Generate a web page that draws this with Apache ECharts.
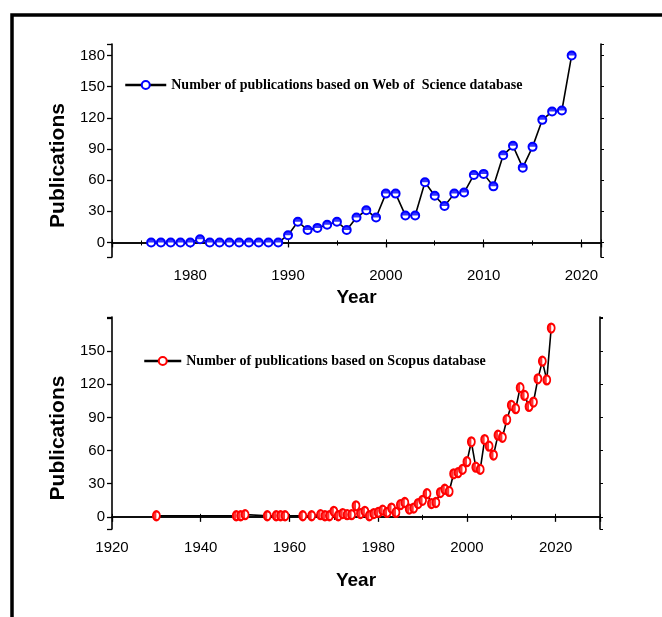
<!DOCTYPE html>
<html><head><meta charset="utf-8">
<script src="https://cdn.jsdelivr.net/npm/echarts@6/dist/echarts.min.js"></script>
<style>html,body{margin:0;padding:0;background:#fff}#c{width:662px;height:617px}</style>
</head><body><div id="c"></div>
<script>
// ---- data ----
const wosName = 'Number of publications based on Web of  Science database';
const wosYears = [1976,1977,1978,1979,1980,1981,1982,1983,1984,1985,1986,1987,1988,1989,
  1990,1991,1992,1993,1994,1995,1996,1997,1998,1999,2000,2001,2002,2003,2004,2005,2006,2007,2008,2009,
  2010,2011,2012,2013,2014,2015,2016,2017,2018,2019];
const wosValues = [0,0,0,0,0,3,0,0,0,0,0,0,0,0,
  7,20,12,14,17,20,12,24,31,24,47,47,26,26,58,45,35,47,48,65,
  66,54,84,93,72,92,118,126,127,180];

const scopusName = 'Number of publications based on Scopus database';
const scopusYears = [1930,1948,1949,1950,1955,1957,1958,1959,1963,1965,1967,1968,1969,
  1970,1971,1972,1973,1974,1975,1976,1977,1978,1979,1980,1981,1982,1983,1984,1985,1986,1987,1988,1989,
  1990,1991,1992,1993,1994,1995,1996,1997,1998,1999,2000,2001,2002,2003,2004,2005,2006,2007,2008,2009,
  2010,2011,2012,2013,2014,2015,2016,2017,2018,2019];
const scopusValues = [1,1,1,2,1,1,1,1,1,1,2,1,1,
  5,1,3,2,2,10,3,5,1,3,4,6,4,8,4,11,13,7,8,12,
  15,21,12,13,22,25,23,39,40,43,50,68,45,43,70,64,56,74,72,88,
  101,98,117,110,100,104,125,141,124,171];

const yTicksShown = [0,30,60,90,120,150,180];
const yTicksShownBottom = [0,30,60,90,120,150];
const xTicksTop = [1980,1990,2000,2010,2020];
const xTicksBottom = [1920,1940,1960,1980,2000,2020];

// ---- chart ----
const SANS = "'Liberation Sans',Arial,sans-serif";
const SERIF = "'Liberation Serif','Times New Roman',serif";
const HALF_TOP = 'path://M0,10M0,5A5,5,0,0,1,10,5Z';
const HALF_LEFT = 'path://M10,0M5,0A5,5,0,0,0,5,10Z';

const wosData = wosYears.map((y, i) => [y, wosValues[i]]);
const scopusData = scopusYears.map((y, i) => [y, scopusValues[i]]);

const axLine = {show: true, lineStyle: {color: '#000', width: 1.6}};
const tickFont = {fontFamily: SANS, fontSize: 15, color: '#000'};
const nameFont = {fontFamily: SANS, fontSize: 19, fontWeight: 'bold', color: '#000'};

function xMain(grid, min, max, gap, shown) {
  return {gridIndex: grid, type: 'value', position: 'bottom', min: min, max: max, splitNumber: 5,
    name: 'Year', nameLocation: 'middle', nameGap: gap, nameTextStyle: nameFont,
    axisLine: axLine, axisTick: {show: true, length: 5, lineStyle: {color: '#000', width: 1.3}},
    minorTick: {show: true, splitNumber: 2, length: 3, lineStyle: {color: '#000', width: 1}},
    axisLabel: Object.assign({margin: 11, showMinLabel: true, showMaxLabel: true,
      formatter: v => shown.indexOf(v) >= 0 ? String(v) : ''}, tickFont),
    splitLine: {show: false}};
}
function xMirror(grid, min, max) {
  return {gridIndex: grid, type: 'value', position: 'top', min: min, max: max, splitNumber: 5,
    axisLine: axLine, axisTick: {show: true, length: 3, lineStyle: {color: '#000', width: 1}},
    minorTick: {show: true, splitNumber: 2, length: 2, lineStyle: {color: '#000', width: 1}},
    axisLabel: {show: false}, splitLine: {show: false}};
}
function yMain(grid, min, max, shown) {
  return {gridIndex: grid, type: 'value', position: 'left', min: min, max: max, splitNumber: 6,
    name: 'Publications', nameLocation: 'middle', nameGap: 40,
    nameTextStyle: Object.assign({}, nameFont, {fontSize: 21, padding: [0, 30, 0, 0]}),
    axisLine: axLine, axisTick: {show: true, length: 5, lineStyle: {color: '#000', width: 1.3}},
    axisLabel: Object.assign({margin: 7,
      formatter: v => shown.indexOf(v) >= 0 ? String(v) : ''}, tickFont),
    splitLine: {show: false}};
}
function yMirror(grid, min, max) {
  return {gridIndex: grid, type: 'value', position: 'right', min: min, max: max, splitNumber: 6,
    axisLine: axLine, axisTick: {show: true, length: 3, lineStyle: {color: '#000', width: 1}},
    axisLabel: {show: false}, splitLine: {show: false}};
}

const legendText = {fontFamily: SERIF, fontSize: 14, fontWeight: 'bold', color: '#000'};

const option = {
  animation: false,
  backgroundColor: '#fff',
  graphic: [{type: 'rect', shape: {x: 12, y: 15, width: 720, height: 720},
    style: {fill: 'none', stroke: '#000', lineWidth: 3.5}, z: 100, silent: true}],
  grid: [
    {left: 112, top: 44, width: 489, height: 213},
    {left: 112, top: 317, width: 488, height: 212}
  ],
  legend: [
    {left: 119, top: 73, itemWidth: 41, itemHeight: 10, itemGap: 5, data: [wosName],
      textStyle: legendText, lineStyle: {width: 2.5}},
    {left: 138, top: 349, itemWidth: 37, itemHeight: 10, itemGap: 5, data: [scopusName],
      textStyle: legendText, lineStyle: {width: 2.5}}
  ],
  xAxis: [
    xMain(0, 1972, 2022, 31, xTicksTop), xMirror(0, 1972, 2022),
    xMain(1, 1920, 2030, 42, xTicksBottom), xMirror(1, 1920, 2030)
  ],
  yAxis: [
    yMain(0, -14, 191, yTicksShown), yMirror(0, -14, 191),
    yMain(1, -11, 181, yTicksShownBottom), yMirror(1, -11, 181)
  ],
  series: [
    {name: wosName, type: 'line', xAxisIndex: 0, yAxisIndex: 0, data: wosData,
      symbol: 'emptyCircle', symbolSize: 8, itemStyle: {color: '#0000ff', borderWidth: 1.2},
      lineStyle: {color: '#000', width: 1.6}, z: 2},
    {type: 'scatter', xAxisIndex: 0, yAxisIndex: 0, data: wosData, symbol: HALF_TOP,
      symbolSize: 8, itemStyle: {color: '#0000ff'}, z: 3, silent: true},
    {name: scopusName, type: 'line', xAxisIndex: 2, yAxisIndex: 2, data: scopusData,
      symbol: 'emptyCircle', symbolSize: [7, 9], itemStyle: {color: '#ff0000', borderWidth: 1.2},
      lineStyle: {color: '#000', width: 1.6}, z: 2},
    {type: 'scatter', xAxisIndex: 2, yAxisIndex: 2, data: scopusData, symbol: HALF_LEFT,
      symbolSize: [7, 9], itemStyle: {color: '#ff0000'}, z: 3, silent: true}
  ]
};

const chart = echarts.init(document.getElementById('c'), null, {renderer: 'canvas'});
chart.setOption(option);
</script></body></html>
